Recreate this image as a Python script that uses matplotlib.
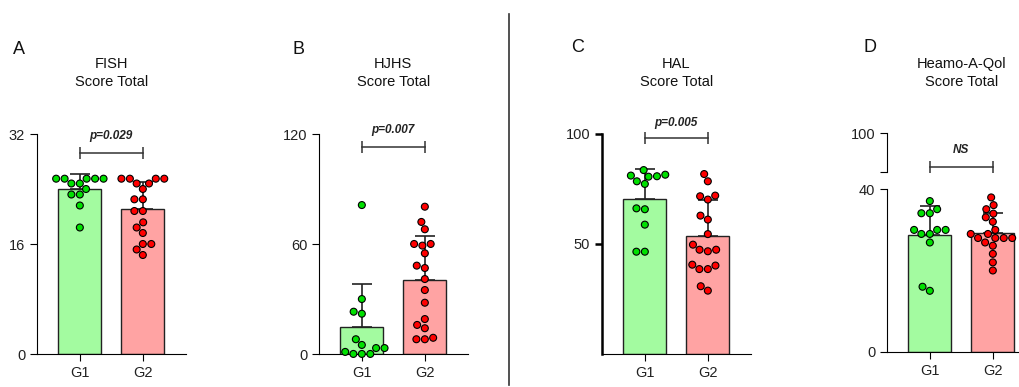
import matplotlib
matplotlib.use("Agg")
import matplotlib.pyplot as plt
import matplotlib.transforms as mtransforms
import numpy as np
import pandas as pd
import seaborn as sns

plt.rcParams["font.family"] = ["Liberation Sans", "DejaVu Sans"]

groups = ["G1", "G2"]

# values
fish_g1 = [25.5, 25.5, 25.5, 25.5, 25.5, 24.8, 24.8, 24.0, 23.2, 23.2, 21.6, 18.4]
fish_g2 = [25.5, 25.5, 25.5, 25.5, 24.8, 24.8, 24.0, 22.5, 22.5, 20.8, 20.8,
           19.15, 18.4, 17.6, 16.0, 16.0, 15.2, 14.4]

hjhs_g1 = [81.3, 30.1, 23.2, 22.1, 8.2, 5.1, 3.4, 3.4, 1.3, 0.2, 0.2, 0.2]
hjhs_g2 = [80.4, 72.1, 68.1, 60.1, 60.1, 59.2, 55.0, 47.0, 48.3, 41.0, 35.0,
           28.1, 19.2, 16.0, 14.2, 9.0, 8.2, 8.2]

hal_g1 = [83.6, 80.6, 81.1, 80.8, 81.5, 78.5, 77.3, 66.2, 65.8, 58.8, 46.5, 46.5]
hal_g2 = [81.8, 78.5, 72.0, 70.2, 71.7, 61.1, 62.9, 54.5, 49.7, 46.7, 47.4, 47.4,
          38.6, 40.6, 38.6, 40.2, 28.8, 30.8]

haem_g1 = [37.1, 35.1, 34.1, 34.1, 30.0, 30.0, 30.0, 29.0, 29.0, 26.9, 16.0, 15.0]
haem_g2 = [38.0, 36.1, 35.1, 34.0, 33.1, 32.0, 30.0, 29.0, 29.0, 28.0, 28.0, 28.0,
           28.0, 26.9, 26.1, 24.1, 22.0, 20.0]

letters = ["A", "B", "C", "D"]
titles = ["FISH", "HJHS", "HAL", "Heamo-A-Qol"]
p_texts = ["p=0.029", "p=0.007", "p=0.005", "NS"]

bar_colors = ["#a3fba0", "#ffa3a3"]
dot_colors = {"G1": "#00e000", "G2": "#ff0000"}

W, H = 1020, 387
fig = plt.figure(figsize=(W / 100, H / 100), dpi=100)


def add_px_axes(x0, ytop, ybot, width):
    return fig.add_axes([x0 / W, 1 - ybot / H, width / W, (ybot - ytop) / H])


def draw_panel(ax, g1, g2, ylim, yticks, spine_lw=0.8):
    means = [np.mean(g1), np.mean(g2)]
    sds = [np.std(g1, ddof=1), np.std(g2, ddof=1)]
    ax.bar([0, 1], means, width=0.68, color=bar_colors, edgecolor="#222222",
           linewidth=1.0, zorder=1)
    ax.errorbar([0, 1], means, yerr=[[0, 0], sds], fmt="none", ecolor="#222222",
                elinewidth=1.2, capsize=7, capthick=1.2, zorder=2)
    df = pd.DataFrame({"pos": [0] * len(g1) + [1] * len(g2),
                       "val": list(g1) + list(g2),
                       "grp": ["G1"] * len(g1) + ["G2"] * len(g2)})
    sns.swarmplot(data=df, x="pos", y="val", hue="grp", palette=dot_colors,
                  native_scale=True, size=5, edgecolor="black", linewidth=0.8,
                  legend=False, ax=ax, zorder=3, clip_on=False)
    ax.set_xlim(-0.68, 1.68)
    ax.set_ylim(*ylim)
    ax.set_yticks(yticks)
    ax.set_xticks([0, 1])
    ax.set_xticklabels(groups)
    ax.set_xlabel("")
    ax.set_ylabel("")
    for s in ["top", "right"]:
        ax.spines[s].set_visible(False)
    ax.spines["bottom"].set_linewidth(0.8)
    ax.spines["left"].set_linewidth(spine_lw)
    ax.tick_params(axis="both", labelsize=10.5, length=5, width=0.8,
                   colors="black", labelcolor="#222222")
    ax.tick_params(axis="y", width=spine_lw)


def bracket(ax, y, ty, text):
    ax.plot([0, 1], [y, y], color="#333333", lw=1.1, marker="|", markersize=9,
            markeredgewidth=1.1, clip_on=False, zorder=4)
    ax.text(0.5, ty, text, ha="center", va="center", fontsize=8.5,
            fontweight="bold", style="italic", color="#222222", clip_on=False)


def titles_for(ax, letter_xy, title):
    tr = mtransforms.blended_transform_factory(ax.transData, fig.transFigure)
    fig.text(letter_xy[0] / W, 1 - letter_xy[1] / H, letter, fontsize=13,
             ha="center", va="center", color="#111111")
    ax.text(0.5, 1 - 64 / H, title, transform=tr, ha="center", va="center",
            fontsize=10.5, color="#111111")
    ax.text(0.5, 1 - 82 / H, "Score Total", transform=tr, ha="center",
            va="center", fontsize=10.5, color="#111111")


sp = 63 * 2.36

# A
axA = add_px_axes(37, 134, 354, sp)
draw_panel(axA, fish_g1, fish_g2, (0, 32), [0, 16, 32])
bracket(axA, 29.2, 31.7, p_texts[0])

# B
axB = add_px_axes(319, 134, 354.3, sp)
draw_panel(axB, hjhs_g1, hjhs_g2, (0, 120), [0, 60, 120])
bracket(axB, 113, 122, p_texts[1])

# C
axC = add_px_axes(602, 134, 354, sp)
draw_panel(axC, hal_g1, hal_g2, (0, 100), [50, 100], spine_lw=1.8)
bracket(axC, 98, 104.9, p_texts[2])

# D (broken axis)
axD = add_px_axes(887, 189.3, 351.7, sp)
draw_panel(axD, haem_g1, haem_g2, (0, 40), [0, 40])
bracket(axD, 45.5, 49.7, p_texts[3])
axDu = add_px_axes(887, 133.3, 171.7, sp)
axDu.set_xlim(-0.68, 1.68)
axDu.set_ylim(90, 100)
axDu.set_yticks([90, 100])
axDu.set_yticklabels(["", "100"])
axDu.set_xticks([])
for s in ["top", "right", "bottom"]:
    axDu.spines[s].set_visible(False)
axDu.spines["left"].set_linewidth(0.8)
axDu.tick_params(axis="y", labelsize=10.5, length=5, width=0.8, labelcolor="#222222")
axDu.patch.set_visible(False)

letter_pos = [(19, 50), (299, 50), (578, 48), (870, 47)]
for ax, letter, pos, title in zip([axA, axB, axC, axD], letters, letter_pos, titles):
    titles_for(ax, pos, title)

# divider between the two halves
fig.add_artist(plt.Line2D([509 / W, 509 / W], [1 - 14 / H, 1 - 385 / H],
                          color="#333333", lw=1.2))

fig.savefig("out.png", dpi=100)
